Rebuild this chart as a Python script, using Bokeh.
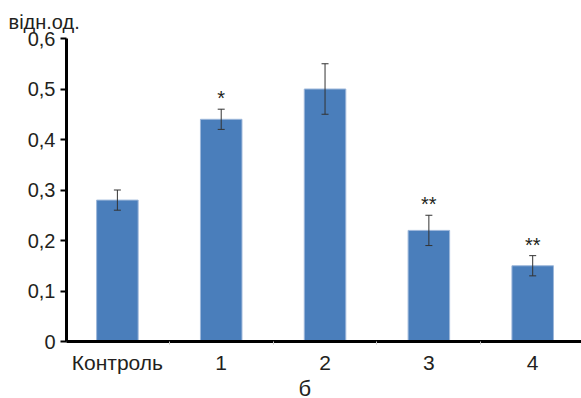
from bokeh.plotting import figure
from bokeh.models import (ColumnDataSource, Range1d, FixedTicker, Whisker, TeeHead,
                          CustomJSTickFormatter, Title)
from bokeh.core.properties import value
from bokeh.embed import file_html
from bokeh.resources import INLINE

categories = ["Контроль", "1", "2", "3", "4"]
means = [0.28, 0.44, 0.50, 0.22, 0.15]
errors = [0.02, 0.02, 0.05, 0.03, 0.02]
marks = ["", "*", "", "**", "**"]
y_ticks = [0, 0.1, 0.2, 0.3, 0.4, 0.5, 0.6]
y_unit = "відн.од."
panel_letter = "б"

FONT = "Liberation Sans"
TXT = "#231f20"

xs = list(range(len(categories)))
src = ColumnDataSource(dict(
    x=xs, top=means,
    upper=[m + e for m, e in zip(means, errors)],
    lower=[m - e for m, e in zip(means, errors)],
))
star_src = ColumnDataSource(dict(
    x=xs, y=[m + e + 0.022 for m, e in zip(means, errors)], t=marks,
))

p = figure(width=581, height=398, x_range=Range1d(-0.49, 4.47), y_range=Range1d(0, 0.6),
           output_backend="svg", toolbar_location=None,
           min_border_left=66, min_border_right=0, min_border_top=38, min_border_bottom=55)
p.outline_line_color = None
p.xgrid.grid_line_color = None
p.ygrid.grid_line_color = None
p.background_fill_color = "white"
p.border_fill_color = "white"

p.title.text = y_unit
p.title.align = "left"
p.title.offset = -58
p.title.standoff = 12
p.title.text_line_height = 1.0
p.title.text_font = FONT
p.title.text_font_size = "20px"
p.title.text_font_style = "normal"
p.title.text_color = TXT

p.vbar(x="x", top="top", width=0.4, bottom=0, source=src,
       fill_color="#4a7ebb", line_color="#9db7da", line_width=1)

eb_color = "#333333"
wh = Whisker(base="x", upper="upper", lower="lower", source=src,
             line_color=eb_color, line_width=1, level="overlay",
             upper_head=TeeHead(size=7, line_color=eb_color, line_width=1),
             lower_head=TeeHead(size=7, line_color=eb_color, line_width=1))
p.add_layout(wh)

p.text(x="x", y="y", text="t", source=star_src, text_align="center",
       text_baseline="middle", text_font=value(FONT), text_font_size="20px",
       text_color=TXT)

# Y axis
ya = p.yaxis[0]
ya.ticker = FixedTicker(ticks=y_ticks, minor_ticks=[])
ya.formatter = CustomJSTickFormatter(code="""
    if (Math.abs(tick) < 1e-9) return "0";
    return tick.toFixed(1).replace('.', ',');
""")
ya.axis_line_width = 3
ya.axis_line_color = "black"
ya.major_tick_line_color = "black"
ya.major_tick_line_width = 2
ya.major_tick_out = 6
ya.major_tick_in = 0
ya.minor_tick_line_color = None
ya.major_label_standoff = 5
ya.major_label_text_font = FONT
ya.major_label_text_font_size = "20px"
ya.major_label_text_color = TXT

# X axis
xa = p.xaxis[0]
xa.ticker = FixedTicker(ticks=xs, minor_ticks=[i + 0.5 for i in xs[:-1]])
xa.formatter = CustomJSTickFormatter(args=dict(labels=categories),
                                     code="return labels[Math.round(tick)];")
xa.axis_line_width = 3
xa.axis_line_color = "black"
xa.major_tick_line_color = None
xa.minor_tick_line_color = "#c8c8c8"
xa.minor_tick_out = 3
xa.minor_tick_in = 0
xa.major_label_standoff = 3
xa.major_label_text_font = FONT
xa.major_label_text_font_size = "21px"
xa.major_label_text_color = TXT

bt = Title(text=panel_letter, align="left", offset=232, standoff=-5,
           text_font=FONT, text_font_size="22px", text_font_style="normal",
           text_color=TXT)
p.add_layout(bt, "below")

open("out.html", "w").write(file_html(p, INLINE))
